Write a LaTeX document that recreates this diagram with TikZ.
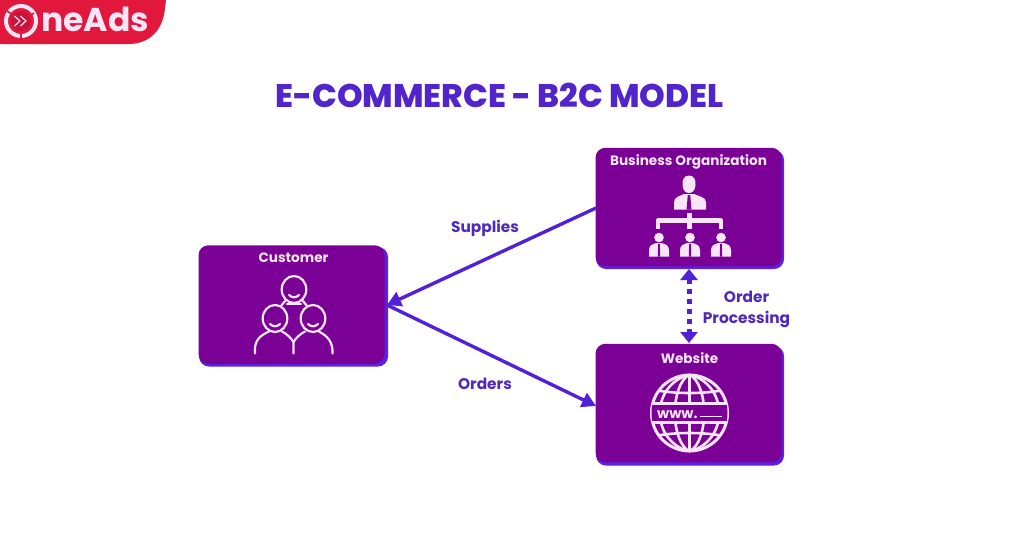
\documentclass[tikz,border=0pt]{standalone}
\usepackage{fontspec}
\setmainfont{Poppins}
\newfontfamily\headingfont{Poppins ExtraBold}
\usetikzlibrary{arrows.meta}
\definecolor{boxpurple}{HTML}{7A0096}
\definecolor{boxedge}{HTML}{5A22E0}
\definecolor{linkblue}{HTML}{5220D8}
\definecolor{titleblue}{HTML}{5224CC}
\definecolor{labelblue}{HTML}{4F2AB8}
\definecolor{iconwhite}{HTML}{F8E6F8}
\definecolor{brandred}{HTML}{E2173C}
\definecolor{branddeep}{HTML}{C8143A}
\tikzset{
  panel/.style={fill=boxpurple,draw=none,rounded corners=10pt,minimum width=186pt,minimum height=118.5pt,inner sep=0pt},
  panelshadow/.style={fill=boxedge,draw=none,rounded corners=10pt},
  paneltitle/.style={text=iconwhite,font=\bfseries\fontsize{13.6}{15}\selectfont,inner sep=0pt},
  linklabel/.style={text=labelblue,font=\bfseries\fontsize{15.4}{21}\selectfont,inner sep=0pt,align=center},
  solidlink/.style={draw=linkblue,line width=3.4pt,-{Triangle[length=14pt,width=15pt]}},
  dottedlink/.style={draw=linkblue,line width=5pt,dash pattern=on 5pt off 5pt,{Triangle[length=11pt,width=17pt]}-{Triangle[length=11pt,width=17pt]}},
  iconline/.style={draw=iconwhite,line width=2.2pt,line cap=round,line join=round},
  iconfill/.style={fill=iconwhite,draw=none}
}
% Small figure in a suit: head, shoulders and a dark tie
\newcommand{\staffmember}[2]{%
  \fill[iconfill] (#1,#2-9.5) circle (4.8pt);
  \fill[iconfill] (#1-10,#2+9.5) -- (#1-10,#2+3) .. controls (#1-10,#2-2) and (#1-6,#2-3) .. (#1-3,#2-4)
     -- (#1+3,#2-4) .. controls (#1+6,#2-3) and (#1+10,#2-2) .. (#1+10,#2+3) -- (#1+10,#2+9.5) -- cycle;
  \fill[boxpurple] (#1-0.9,#2-3) -- (#1+0.9,#2-3) -- (#1+1.2,#2+9.5) -- (#1-1.2,#2+9.5) -- cycle;
}
% Outline of a smiling customer: head and shoulders
\newcommand{\customerhead}[2]{%
  \draw[iconline] (#1,#2) ellipse (12.3pt and 13.5pt);
  \draw[iconline] (#1-5,#2+5.5) .. controls (#1-2,#2+8.5) and (#1+2,#2+8.5) .. (#1+5,#2+5.5);
}
\begin{document}
\begin{tikzpicture}[x=1pt,y=-1pt]
\useasboundingbox (0,0) rectangle (1024,536);
\fill[white] (0,0) rectangle (1024,536);

% Brand tab in the top left corner
\fill[brandred] (0,0) -- (166,0) -- (165,8) .. controls (163,30) and (150,44) .. (128,44) -- (0,44) -- cycle;
\fill[branddeep] (21,21) circle (10pt);
\draw[iconwhite,line width=4pt] (21,21) circle (15pt);
\draw[brandred,line width=1.6pt] (7,11) -- (13,15);
\draw[brandred,line width=1.6pt] (34,13) -- (29,17);
\draw[brandred,line width=1.6pt] (21,31) -- (21,38);
\draw[iconwhite,line width=1.2pt,line join=round] (14.5,16) -- (20,21) -- (14.5,26);
\draw[iconwhite,line width=1.2pt,line join=round] (20.5,16) -- (26,21) -- (20.5,26);
\node[name=brand,anchor=base west,inner sep=0pt,text=iconwhite,font=\bfseries\fontsize{33}{34}\selectfont] at (41,31) {neAds};

% Heading
\node[name=heading,inner sep=0pt,text=titleblue,font=\headingfont\fontsize{32.7}{34}\selectfont] at (499.5,95) {E-COMMERCE - B2C MODEL};

% Panels with their offset edge
\fill[panelshadow] (199,247) rectangle (388,366.5);
\fill[panelshadow] (596,150) rectangle (784,269);
\fill[panelshadow] (596,346) rectangle (784,465.5);
\node[panel,name=customer] at (291.5,304.5) {};
\node[panel,name=business] at (688.5,207) {};
\node[panel,name=website] at (688.5,403) {};

\node[paneltitle,name=customertitle] at (293.5,257.5) {Customer};
\node[paneltitle,name=businesstitle] at (688.5,161.5) {Business Organization};
\node[paneltitle,name=websitetitle] at (689.5,358.5) {Website};

% Customer group
\begin{scope}
\customerhead{294}{289.5}
\customerhead{275}{318.5}
\customerhead{313}{318.5}
\draw[iconline] (285,301) -- (281,306);
\draw[iconline] (303,301) -- (307,306);
\draw[iconline] (287,304) -- (301,304);
\draw[iconline] (255,353.5) .. controls (254,341) and (259,336) .. (269,331.5);
\draw[iconline] (282,331.5) .. controls (287,334) and (291,338) .. (293.5,342);
\draw[iconline] (305,331.5) .. controls (300,334) and (296,338) .. (293.5,342) -- (293.5,353.5);
\draw[iconline] (319,331.5) .. controls (327,336) and (333,341) .. (332.5,353.5);
\end{scope}

% Organisation chart
\fill[iconfill] (689,175.5) .. controls (694,175.5) and (696,180) .. (695.5,185)
   .. controls (695,190) and (693,193) .. (689,193) .. controls (685,193) and (683,190) .. (682.5,185)
   .. controls (682,180) and (684,175.5) .. (689,175.5) -- cycle;
\fill[iconfill] (674,209.5) -- (674,202) .. controls (674,197) and (680,196) .. (684,194)
   -- (694,194) .. controls (698,196) and (706,197) .. (706,202) -- (706,209.5) -- cycle;
\fill[boxpurple] (687.8,195) -- (690.2,195) -- (691.5,209.5) -- (686.5,209.5) -- cycle;
\draw[draw=iconwhite,line width=4.6pt] (689.5,213) -- (689.5,229);
\draw[draw=iconwhite,line width=4.6pt,line join=round] (658,229) -- (658,220.5) -- (721,220.5) -- (721,229);
\staffmember{659}{247}
\staffmember{690}{247}
\staffmember{721}{247}

% Globe with address band
\begin{scope}
\draw[iconline,line width=3pt] (689.5,413) circle (38pt);
\draw[iconline,line width=2.6pt] (689.5,374.5) -- (689.5,403);
\draw[iconline,line width=2.6pt] (689.5,423) -- (689.5,451.5);
\clip (689.5,413) circle (38pt);
\draw[iconline,line width=2.6pt] (689.5,374.5) .. controls (670,385) and (670,441) .. (689.5,451.5);
\draw[iconline,line width=2.6pt] (689.5,374.5) .. controls (709,385) and (709,441) .. (689.5,451.5);
\draw[iconline,line width=2.6pt] (689.5,374.5) .. controls (650,385) and (650,441) .. (689.5,451.5);
\draw[iconline,line width=2.6pt] (689.5,374.5) .. controls (729,385) and (729,441) .. (689.5,451.5);
\draw[iconline,line width=2.6pt] (655,390) .. controls (675,394) and (704,394) .. (724,390);
\draw[iconline,line width=2.6pt] (655,436) .. controls (675,432) and (704,432) .. (724,436);
\fill[boxpurple] (650,404) rectangle (729,422);
\draw[iconline,line width=2.6pt] (650,403.5) -- (729,403.5);
\draw[iconline,line width=2.6pt] (650,422.5) -- (729,422.5);
\end{scope}
\node[name=webaddress,anchor=base west,inner sep=0pt,text=iconwhite,font=\bfseries\fontsize{14}{16}\selectfont] at (657,418) {www.};
\draw[iconwhite,line width=1.8pt] (700,416.5) -- (722,416.5);

% Links between the panels
\coordinate (hub) at (387,305);
\coordinate (businessout) at (596,208);
\coordinate (websitein) at (596,406);
\coordinate (dotstart) at (689,269);
\coordinate (dotend) at (689,343);
\draw[solidlink] (businessout) -- (hub);
\draw[solidlink] (hub) -- (websitein);
\draw[dottedlink] (dotstart) -- (dotend);

\node[linklabel,name=supplies] at (485,228) {Supplies};
\node[linklabel,name=orders] at (485,384) {Orders};
\node[linklabel,name=processing] at (746.5,309.5) {Order\\Processing};
\end{tikzpicture}
\end{document}
